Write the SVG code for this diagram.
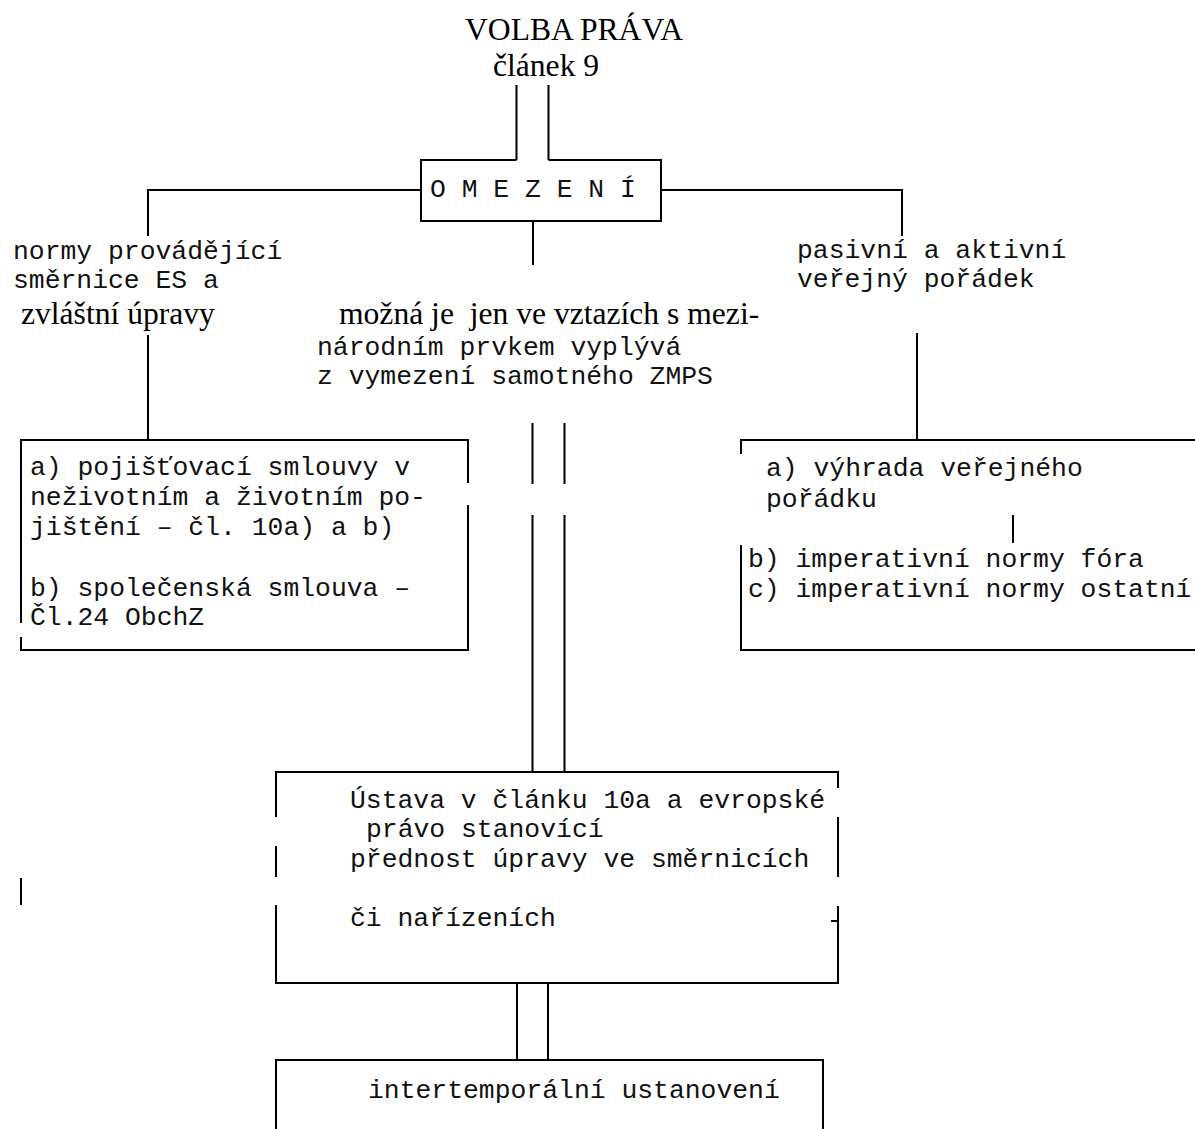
<svg xmlns="http://www.w3.org/2000/svg" width="1195" height="1129" viewBox="0 0 1195 1129">
<style>
.ln{stroke:#000;stroke-width:2;fill:none}
.m{font-family:"Liberation Mono","Courier New",monospace;font-size:26.4px;fill:#111}
.s{font-family:"Liberation Serif","Times New Roman",serif;font-size:31.6px;fill:#000}
</style>
<rect width="1195" height="1129" fill="#fff"/>
<g id="connectors" class="ln">
<path d="M516.5,85V160M548.5,85V160"/>
<path d="M148,236V190H421M661,190H902V236"/>
<path d="M533,221V265"/>
<path d="M148,335V440"/>
<path d="M917,333V440"/>
<path d="M532.5,423V484M564.5,423V484M532.5,515V772M564.5,515V772"/>
<path d="M517,983V1060M548,983V1060"/>
<path d="M21,878V905"/>
</g>
<g id="title">
<text class="s" x="465" y="40">VOLBA PRÁVA</text>
<text class="s" x="493" y="76">článek 9</text>
</g>
<g id="omezeni">
<path class="ln" d="M516.5,160H421V221H661V160H548.5"/>
<text class="m" x="430" y="197" xml:space="preserve">O M E Z E N Í</text>
</g>
<g id="left-label">
<text class="m" x="13" y="259">normy provádějící</text>
<text class="m" x="13" y="288">směrnice ES a</text>
<text class="s" x="21" y="324">zvláštní úpravy</text>
</g>
<g id="center-label">
<text class="s" x="339" y="324" xml:space="preserve">možná je  jen ve vztazích s mezi-</text>
<text class="m" x="317" y="355">národním prvkem vyplývá</text>
<text class="m" x="317" y="384">z vymezení samotného ZMPS</text>
</g>
<g id="right-label">
<text class="m" x="797" y="258">pasivní a aktivní</text>
<text class="m" x="797" y="287">veřejný pořádek</text>
</g>
<g id="left-box">
<path class="ln" d="M21,623V440H468V483M468,505V650H21V637"/>
<text class="m" x="30" y="475">a) pojišťovací smlouvy v</text>
<text class="m" x="30" y="505">neživotním a životním po-</text>
<text class="m" x="30" y="535">jištění – čl. 10a) a b)</text>
<text class="m" x="30" y="596">b) společenská smlouva –</text>
<text class="m" x="30" y="625">Čl.24 ObchZ</text>
</g>
<g id="right-box">
<path class="ln" d="M741,454V440H1196M741,545V650H1196"/>
<path class="ln" d="M1013,515V543"/>
<text class="m" x="766" y="476">a) výhrada veřejného</text>
<text class="m" x="766" y="507">pořádku</text>
<text class="m" x="748" y="567">b) imperativní normy fóra</text>
<text class="m" x="748" y="597">c) imperativní normy ostatní</text>
</g>
<g id="middle-box">
<path class="ln" d="M276,817V772H838V788M838,817V877M838,906V983H276V905M276,846V877M831,921H838"/>
<text class="m" x="350" y="808">Ústava v článku 10a a evropské</text>
<text class="m" x="366" y="837">právo stanovící</text>
<text class="m" x="350" y="867">přednost úpravy ve směrnicích</text>
<text class="m" x="350" y="926">či nařízeních</text>
</g>
<g id="bottom-box">
<path class="ln" d="M276,1130V1060H823V1130"/>
<text class="m" x="368" y="1098">intertemporální ustanovení</text>
</g>
</svg>
